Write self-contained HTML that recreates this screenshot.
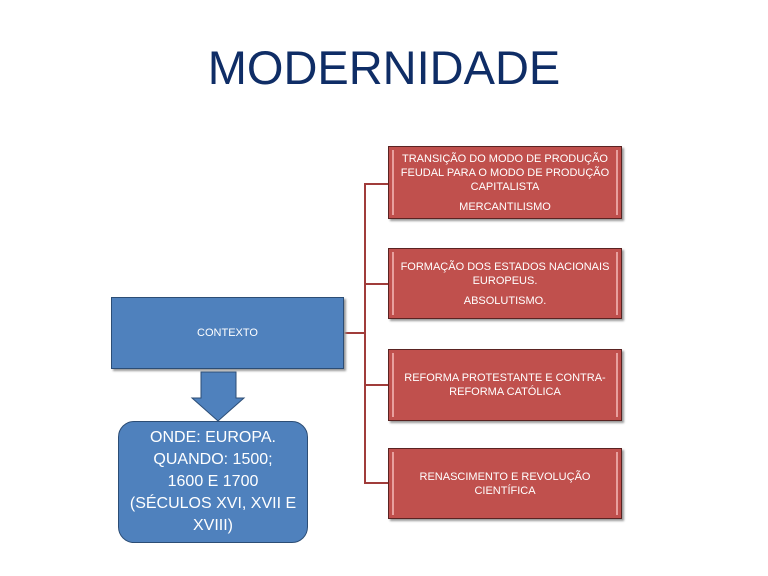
<!DOCTYPE html><html><head><style>
body{margin:0;width:768px;height:576px;background:#fff;position:relative;font-family:"Liberation Sans",sans-serif;overflow:hidden}
.t{position:absolute;left:0;width:768px;top:40px;text-align:center;font-size:47px;color:#0f2d66}
.r{position:absolute;left:388px;width:234px;background:#c0504d;border:1px solid #5a2322;box-shadow:2px 2px 2px #999;color:#fff;font-size:11px;text-align:center;display:flex;flex-direction:column;justify-content:center;line-height:14px;box-sizing:border-box}
.r:before{content:"";position:absolute;left:3px;top:3px;right:3px;bottom:3px;border-left:2px solid #e8a09e;border-right:2px solid #e8a09e}
.l{position:absolute;background:#a03c3a}
</style></head><body>
<div class="t">MODERNIDADE</div>
<div class="l" style="left:364px;top:183px;width:2px;height:301px"></div>
<div class="l" style="left:344px;top:332px;width:22px;height:2px"></div>
<div class="l" style="left:364px;top:183px;width:24px;height:2px"></div>
<div class="l" style="left:364px;top:283px;width:24px;height:2px"></div>
<div class="l" style="left:364px;top:384px;width:24px;height:2px"></div>
<div class="l" style="left:364px;top:482px;width:24px;height:2px"></div>
<div class="r" style="top:146px;height:73px">TRANSIÇÃO DO MODO DE PRODUÇÃO<br>FEUDAL PARA O MODO DE PRODUÇÃO<br>CAPITALISTA<div style="margin-top:6px">MERCANTILISMO</div></div>
<div class="r" style="top:248px;height:71px">FORMAÇÃO DOS ESTADOS NACIONAIS<br>EUROPEUS.<div style="margin-top:6px">ABSOLUTISMO.</div></div>
<div class="r" style="top:349px;height:72px">REFORMA PROTESTANTE E CONTRA-<br>REFORMA CATÓLICA</div>
<div class="r" style="top:448px;height:71px">RENASCIMENTO E REVOLUÇÃO<br>CIENTÍFICA</div>
<div style="position:absolute;left:111px;top:297px;width:233px;height:72px;box-sizing:border-box;background:#4f81bd;border:1px solid #2c4d75;box-shadow:2px 2px 2px #999;color:#fff;font-size:11px;display:flex;align-items:center;justify-content:center">CONTEXTO</div>
<svg style="position:absolute;left:0;top:0" width="768" height="576"><polygon points="201,372 236,372 236,398 244,398 218,421 192,398 201,398" fill="#4f81bd" stroke="#2c4d75"/></svg>
<div style="position:absolute;left:118px;top:421px;width:190px;height:122px;box-sizing:border-box;background:#4f81bd;border:1.5px solid #2c4d75;border-radius:16px;color:#fff;font-size:16px;line-height:22px;text-align:center;display:flex;align-items:center;justify-content:center">ONDE: EUROPA.<br>QUANDO: 1500;<br>1600 E 1700<br>(SÉCULOS XVI, XVII E<br>XVIII)</div>
</body></html>
